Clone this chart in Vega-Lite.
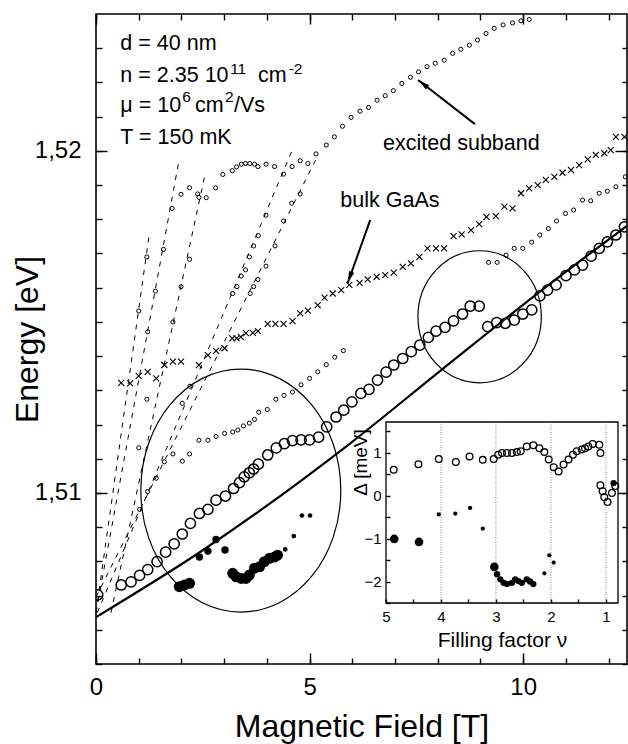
{
"$schema": "https://vega.github.io/schema/vega-lite/v6.json",
"width": 531, "height": 650,
"autosize": {"type": "none"},
"padding": {"left": 96, "top": 14, "right": 1, "bottom": 80},
"background": "white",
"config": {"font": "Liberation Sans", "view": {"stroke": "black", "strokeWidth": 1.6},
  "axis": {"domain": false, "grid": false, "tickColor": "black", "tickWidth": 1.4, "labelColor": "black", "titleColor": "black", "titleFontWeight": "normal", "labelFlush": false, "labelOverlap": false}},
"datasets": {
  "big": [{"B":0.04,"E":1.50702},{"B":0.59,"E":1.50731},{"B":0.82,"E":1.5074},{"B":1.02,"E":1.50759},{"B":1.21,"E":1.50776},{"B":1.43,"E":1.50799},{"B":1.63,"E":1.50827},{"B":1.83,"E":1.50851},{"B":2.02,"E":1.5088},{"B":2.21,"E":1.50911},{"B":2.42,"E":1.5094},{"B":2.62,"E":1.50952},{"B":2.81,"E":1.50979},{"B":3.03,"E":1.50991},{"B":3.22,"E":1.51013},{"B":3.36,"E":1.5103},{"B":3.47,"E":1.51047},{"B":3.59,"E":1.51059},{"B":3.69,"E":1.5107},{"B":3.8,"E":1.51084},{"B":4.02,"E":1.51111},{"B":4.22,"E":1.51132},{"B":4.41,"E":1.51144},{"B":4.6,"E":1.51153},{"B":4.8,"E":1.51155},{"B":5.0,"E":1.51155},{"B":5.21,"E":1.51163},{"B":5.4,"E":1.51193},{"B":5.62,"E":1.51222},{"B":5.8,"E":1.51242},{"B":5.99,"E":1.51266},{"B":6.2,"E":1.51291},{"B":6.39,"E":1.51303},{"B":6.59,"E":1.5133},{"B":6.79,"E":1.51353},{"B":6.97,"E":1.51374},{"B":7.18,"E":1.51393},{"B":7.38,"E":1.51413},{"B":7.58,"E":1.51432},{"B":7.78,"E":1.51455},{"B":7.96,"E":1.51473},{"B":8.17,"E":1.51484},{"B":8.37,"E":1.51503},{"B":8.58,"E":1.51523},{"B":8.76,"E":1.51546},{"B":8.97,"E":1.51546},{"B":9.17,"E":1.51486},{"B":9.38,"E":1.51498},{"B":9.58,"E":1.51496},{"B":9.79,"E":1.51505},{"B":9.99,"E":1.51523},{"B":10.2,"E":1.51535},{"B":10.39,"E":1.51576},{"B":10.57,"E":1.51593},{"B":10.77,"E":1.51608},{"B":11.0,"E":1.51635},{"B":11.2,"E":1.51652},{"B":11.39,"E":1.51666},{"B":11.59,"E":1.51692},{"B":11.78,"E":1.51715},{"B":11.97,"E":1.51734},{"B":12.17,"E":1.51754},{"B":12.37,"E":1.51778}],
  "bulk": [{"B":0.59,"E":1.51322},{"B":0.8,"E":1.5132},{"B":1.0,"E":1.51342},{"B":1.21,"E":1.51354},{"B":1.41,"E":1.51335},{"B":1.6,"E":1.51374},{"B":1.8,"E":1.51384},{"B":1.99,"E":1.51384},{"B":2.41,"E":1.51374},{"B":2.62,"E":1.51403},{"B":2.81,"E":1.51415},{"B":3.01,"E":1.51423},{"B":3.19,"E":1.51452},{"B":3.29,"E":1.51452},{"B":3.39,"E":1.51456},{"B":3.51,"E":1.51467},{"B":3.67,"E":1.51468},{"B":3.79,"E":1.51473},{"B":4.02,"E":1.51494},{"B":4.2,"E":1.51494},{"B":4.39,"E":1.51494},{"B":4.6,"E":1.51502},{"B":4.78,"E":1.51525},{"B":4.96,"E":1.51533},{"B":5.19,"E":1.51549},{"B":5.35,"E":1.51571},{"B":5.54,"E":1.51583},{"B":5.74,"E":1.51593},{"B":5.93,"E":1.51608},{"B":6.17,"E":1.51614},{"B":6.36,"E":1.51624},{"B":6.57,"E":1.51632},{"B":6.77,"E":1.51637},{"B":6.97,"E":1.51644},{"B":7.18,"E":1.51661},{"B":7.37,"E":1.51671},{"B":7.57,"E":1.5169},{"B":7.76,"E":1.51715},{"B":7.96,"E":1.51715},{"B":8.15,"E":1.51715},{"B":8.37,"E":1.51751},{"B":8.56,"E":1.51756},{"B":8.78,"E":1.51768},{"B":8.97,"E":1.51786},{"B":9.14,"E":1.51807},{"B":9.36,"E":1.51809},{"B":9.56,"E":1.51837},{"B":9.75,"E":1.51832},{"B":9.95,"E":1.51876},{"B":10.14,"E":1.5189},{"B":10.34,"E":1.519},{"B":10.53,"E":1.51915},{"B":10.73,"E":1.51924},{"B":10.92,"E":1.51936},{"B":11.12,"E":1.51944},{"B":11.31,"E":1.51958},{"B":11.51,"E":1.51975},{"B":11.7,"E":1.51988},{"B":11.9,"E":1.51993},{"B":12.05,"E":1.52002},{"B":12.17,"E":1.52041},{"B":12.37,"E":1.52041}],
  "excited": [{"B":1.99,"E":1.51873},{"B":2.19,"E":1.51892},{"B":2.38,"E":1.51874},{"B":2.58,"E":1.51863},{"B":2.8,"E":1.51892},{"B":2.97,"E":1.51931},{"B":3.19,"E":1.51942},{"B":3.29,"E":1.51953},{"B":3.4,"E":1.51961},{"B":3.5,"E":1.51963},{"B":3.6,"E":1.51963},{"B":3.71,"E":1.51961},{"B":3.79,"E":1.51954},{"B":3.98,"E":1.51961},{"B":4.18,"E":1.51954},{"B":4.59,"E":1.51954},{"B":4.78,"E":1.51971},{"B":4.96,"E":1.51963},{"B":5.15,"E":1.51991},{"B":5.39,"E":1.52017},{"B":5.58,"E":1.52041},{"B":5.77,"E":1.52072},{"B":5.97,"E":1.52098},{"B":6.18,"E":1.52116},{"B":6.38,"E":1.52127},{"B":6.58,"E":1.52148},{"B":6.77,"E":1.52161},{"B":6.96,"E":1.52176},{"B":7.16,"E":1.52197},{"B":7.36,"E":1.52215},{"B":7.55,"E":1.52231},{"B":7.75,"E":1.52246},{"B":7.94,"E":1.52256},{"B":8.15,"E":1.52265},{"B":8.35,"E":1.52285},{"B":8.54,"E":1.52297},{"B":8.74,"E":1.52309},{"B":8.93,"E":1.52324},{"B":9.13,"E":1.52343},{"B":9.32,"E":1.52358},{"B":9.53,"E":1.52368},{"B":9.75,"E":1.52374},{"B":9.95,"E":1.5238},{"B":10.14,"E":1.52384}],
  "upper": [{"B":9.19,"E":1.51674},{"B":9.39,"E":1.51674},{"B":9.6,"E":1.51695},{"B":9.79,"E":1.51715},{"B":9.99,"E":1.51715},{"B":10.2,"E":1.51733},{"B":10.39,"E":1.51754},{"B":10.59,"E":1.51773},{"B":10.78,"E":1.51795},{"B":10.99,"E":1.51817},{"B":11.18,"E":1.51827},{"B":11.39,"E":1.51856},{"B":11.58,"E":1.51854},{"B":11.78,"E":1.51876},{"B":11.97,"E":1.51882},{"B":12.17,"E":1.51895},{"B":12.39,"E":1.51924}],
  "lower": [{"B":2.02,"E":1.51093},{"B":2.19,"E":1.51114},{"B":2.41,"E":1.51154},{"B":2.62,"E":1.51154},{"B":2.81,"E":1.51165},{"B":3.01,"E":1.51174},{"B":3.2,"E":1.51178},{"B":3.32,"E":1.51184},{"B":3.45,"E":1.51196},{"B":3.59,"E":1.51204},{"B":3.71,"E":1.51215},{"B":3.81,"E":1.51236},{"B":4.01,"E":1.51244},{"B":4.21,"E":1.51274},{"B":4.4,"E":1.51285},{"B":4.6,"E":1.51295},{"B":4.8,"E":1.51316},{"B":5.0,"E":1.51335},{"B":5.19,"E":1.51354},{"B":5.39,"E":1.51375},{"B":5.59,"E":1.51397},{"B":5.79,"E":1.51416}],
  "fan": [{"B":1.0,"E":1.51532},{"B":1.19,"E":1.5169},{"B":1.21,"E":1.51471},{"B":1.39,"E":1.5159},{"B":1.58,"E":1.51712},{"B":1.78,"E":1.51832},{"B":1.8,"E":1.515},{"B":1.99,"E":1.51603},{"B":2.19,"E":1.51683},{"B":2.41,"E":1.51864},{"B":1.19,"E":1.51274},{"B":1.0,"E":1.51132},{"B":1.02,"E":1.50952},{"B":1.21,"E":1.51004},{"B":1.41,"E":1.51043},{"B":1.6,"E":1.51091},{"B":1.8,"E":1.51114},{"B":2.02,"E":1.51262},{"B":2.2,"E":1.51312},{"B":3.2,"E":1.51583},{"B":3.3,"E":1.51603},{"B":3.4,"E":1.51634},{"B":3.5,"E":1.51652},{"B":3.59,"E":1.5169},{"B":3.69,"E":1.51722},{"B":3.8,"E":1.51752},{"B":3.98,"E":1.51812},{"B":4.39,"E":1.51932},{"B":3.61,"E":1.51583},{"B":3.69,"E":1.51603},{"B":3.79,"E":1.51624},{"B":3.98,"E":1.51663},{"B":4.19,"E":1.51722},{"B":4.39,"E":1.51795},{"B":4.58,"E":1.51847},{"B":4.78,"E":1.51874}],
  "dotsLarge": [{"B":1.95,"E":1.50726},{"B":2.07,"E":1.50731},{"B":2.19,"E":1.50736},{"B":3.2,"E":1.50765},{"B":3.28,"E":1.50755},{"B":3.4,"E":1.5075},{"B":3.51,"E":1.5075},{"B":3.59,"E":1.5076},{"B":3.71,"E":1.5078},{"B":3.83,"E":1.50784},{"B":3.94,"E":1.50799},{"B":4.06,"E":1.50809},{"B":4.18,"E":1.50813},{"B":4.25,"E":1.50818}],
  "dotsMedium": [{"B":2.42,"E":1.50813},{"B":2.62,"E":1.5083},{"B":2.81,"E":1.50864},{"B":3.02,"E":1.50833}],
  "dotsSmall": [{"B":4.43,"E":1.50835},{"B":4.63,"E":1.50874},{"B":4.82,"E":1.50934},{"B":5.01,"E":1.50934}],
  "fanlines": [{"B":0,"E":1.5065,"B2":1.24,"E2":1.5175},{"B":0,"E":1.5065,"B2":1.94,"E2":1.5197},{"B":0.35,"E":1.5065,"B2":2.55,"E2":1.5193},{"B":0.03,"E":1.5065,"B2":4.62,"E2":1.5201},{"B":0,"E":1.50696,"B2":5.14,"E2":1.51973}],
  "fit": [{"B":0,"E":1.50637},{"B":2.42,"E":1.50826},{"B":5.93,"E":1.51143},{"B":8.11,"E":1.51362},{"B":10.46,"E":1.51595},{"B":12.43,"E":1.51781}],
  "arrows": [{"B":8.87,"E":1.52078,"B2":7.54,"E2":1.52207},{"B":6.42,"E":1.51798,"B2":5.89,"E2":1.51613}],
  "notes": [{"label":"d = 40 nm","B":0.57,"E":1.52295},{"label":"n = 2.35 10","B":0.57,"E":1.52202},{"label":"cm","B":3.79,"E":1.52202},{"label":"μ = 10","B":0.57,"E":1.52114},{"label":"cm","B":2.32,"E":1.52114},{"label":"/Vs","B":3.23,"E":1.52114},{"label":"T = 150 mK","B":0.57,"E":1.5202},{"label":"excited subband","B":6.72,"E":1.52002},{"label":"bulk GaAs","B":5.72,"E":1.51835}],
  "sups": [{"label":"11","B":3.14,"E":1.52225},{"label":"-2","B":4.51,"E":1.52225},{"label":"6","B":2.02,"E":1.52143},{"label":"2","B":3.02,"E":1.52143}],
  "insetOpen": [{"nu":4.86,"D":0.6},{"nu":4.41,"D":0.73},{"nu":4.04,"D":0.85},{"nu":3.73,"D":0.78},{"nu":3.48,"D":0.91},{"nu":3.24,"D":0.83},{"nu":3.04,"D":0.85},{"nu":2.96,"D":0.95},{"nu":2.89,"D":0.99},{"nu":2.8,"D":0.99},{"nu":2.71,"D":0.99},{"nu":2.62,"D":1.01},{"nu":2.55,"D":1.03},{"nu":2.44,"D":1.14},{"nu":2.32,"D":1.17},{"nu":2.21,"D":1.1},{"nu":2.12,"D":1.01},{"nu":2.04,"D":0.84},{"nu":1.95,"D":0.66},{"nu":1.86,"D":0.56},{"nu":1.77,"D":0.72},{"nu":1.68,"D":0.84},{"nu":1.6,"D":0.95},{"nu":1.53,"D":1.03},{"nu":1.44,"D":1.07},{"nu":1.38,"D":1.1},{"nu":1.32,"D":1.14},{"nu":1.24,"D":1.2},{"nu":1.12,"D":1.18},{"nu":1.1,"D":0.99},{"nu":1.1,"D":0.24},{"nu":1.06,"D":0.1},{"nu":1.03,"D":-0.04},{"nu":0.97,"D":-0.15},{"nu":0.89,"D":0.06},{"nu":0.83,"D":0.22}],
  "insetLarge": [{"nu":4.85,"D":-1.01},{"nu":4.4,"D":-1.08},{"nu":3.03,"D":-1.66}],
  "insetMedium": [{"nu":2.98,"D":-1.83},{"nu":2.92,"D":-1.95},{"nu":2.86,"D":-2.03},{"nu":2.8,"D":-2.06},{"nu":2.71,"D":-2.03},{"nu":2.65,"D":-1.95},{"nu":2.59,"D":-1.99},{"nu":2.53,"D":-2.03},{"nu":2.44,"D":-1.95},{"nu":2.38,"D":-2.0},{"nu":2.32,"D":-2.06},{"nu":0.86,"D":0.29}],
  "insetSmall": [{"nu":4.04,"D":-0.44},{"nu":3.74,"D":-0.42},{"nu":3.47,"D":-0.29},{"nu":3.24,"D":-0.77},{"nu":2.12,"D":-1.81},{"nu":2.03,"D":-1.39},{"nu":1.95,"D":-1.56}],
  "grid": [{"nu":4},{"nu":3},{"nu":2},{"nu":1}]
},
"layer": [
  {
    "encoding": {
      "x": {"field": "B", "type": "quantitative", "scale": {"domain": [0, 12.43], "nice": false, "zero": false},
        "axis": {"orient": "bottom", "values": [0,1,2,3,4,5,6,7,8,9,10,11,12], "labels": false, "tickSize": -6, "title": null}},
      "y": {"field": "E", "type": "quantitative", "scale": {"domain": [1.505, 1.524], "nice": false, "zero": false},
        "axis": {"orient": "left", "values": [1.505,1.506,1.507,1.508,1.509,1.51,1.511,1.512,1.513,1.514,1.515,1.516,1.517,1.518,1.519,1.52,1.521,1.522,1.523], "labels": false, "tickSize": -6, "title": null}}
    },
    "layer": [
      {"data": {"name": "fanlines"},
       "mark": {"type": "rule", "color": "black", "strokeWidth": 1, "strokeDash": [5, 6]},
       "encoding": {"x2": {"field": "B2"}, "y2": {"field": "E2"}}},
      {"data": {"name": "fit"},
       "mark": {"type": "line", "color": "black", "strokeWidth": 2.2, "interpolate": "monotone"},
       "encoding": {}},
      {"data": {"name": "arrows"},
       "mark": {"type": "rule", "color": "black", "strokeWidth": 2},
       "encoding": {"x2": {"field": "B2"}, "y2": {"field": "E2"}}},
      {"data": {"name": "bulk"},
       "mark": {"type": "point", "shape": "M-1,-1L1,1M-1,1L1,-1", "size": 36, "filled": false, "stroke": "black", "strokeWidth": 1.1, "opacity": 1}},
      {"data": {"name": "excited"},
       "mark": {"type": "point", "shape": "circle", "size": 17, "filled": false, "stroke": "black", "strokeWidth": 1, "opacity": 1}},
      {"data": {"name": "upper"},
       "mark": {"type": "point", "shape": "circle", "size": 17, "filled": false, "stroke": "black", "strokeWidth": 1, "opacity": 1}},
      {"data": {"name": "lower"},
       "mark": {"type": "point", "shape": "circle", "size": 17, "filled": false, "stroke": "black", "strokeWidth": 1, "opacity": 1}},
      {"data": {"name": "fan"},
       "mark": {"type": "point", "shape": "circle", "size": 17, "filled": false, "stroke": "black", "strokeWidth": 1, "opacity": 1}},
      {"data": {"name": "big"},
       "mark": {"type": "point", "shape": "circle", "size": 105, "filled": false, "stroke": "black", "strokeWidth": 1.5, "opacity": 1, "clip": true}},
      {"data": {"name": "dotsLarge"},
       "mark": {"type": "point", "shape": "circle", "size": 120, "filled": true, "color": "black", "opacity": 1}},
      {"data": {"name": "dotsMedium"},
       "mark": {"type": "point", "shape": "circle", "size": 55, "filled": true, "color": "black", "opacity": 1}},
      {"data": {"name": "dotsSmall"},
       "mark": {"type": "point", "shape": "circle", "size": 22, "filled": true, "color": "black", "opacity": 1}},
      {"data": {"name": "notes"},
       "mark": {"type": "text", "align": "left", "baseline": "alphabetic", "fontSize": 21.5, "color": "black"},
       "encoding": {"text": {"field": "label"}}},
      {"data": {"name": "sups"},
       "mark": {"type": "text", "align": "left", "baseline": "alphabetic", "fontSize": 15.5, "color": "black"},
       "encoding": {"text": {"field": "label"}}}
    ]
  },
  {
    "data": {"values": [{}]},
    "mark": {"type": "point", "shape": "M1,0 C1,0.671 0.5523,1.215 0,1.215 C-0.5523,1.215 -1,0.671 -1,0 C-1,-0.671 -0.5523,-1.215 0,-1.215 C0.5523,-1.215 1,-0.671 1,0 Z", "size": 40000, "filled": false, "stroke": "black", "strokeWidth": 1.2, "opacity": 1},
    "encoding": {
      "x": {"datum": 3.39, "type": "quantitative", "scale": {"domain": [0, 12.43], "nice": false, "zero": false}, "axis": null},
      "y": {"datum": 1.51007, "type": "quantitative", "scale": {"domain": [1.505, 1.524], "nice": false, "zero": false}, "axis": null}}
  },
  {
    "data": {"values": [{}]},
    "mark": {"type": "point", "shape": "M1,0 C1,0.591 0.5523,1.07 0,1.07 C-0.5523,1.07 -1,0.591 -1,0 C-1,-0.591 -0.5523,-1.07 0,-1.07 C0.5523,-1.07 1,-0.591 1,0 Z", "size": 15228, "filled": false, "stroke": "black", "strokeWidth": 1.2, "opacity": 1},
    "encoding": {
      "x": {"datum": 8.98, "type": "quantitative", "scale": {"domain": [0, 12.43], "nice": false, "zero": false}, "axis": null},
      "y": {"datum": 1.51515, "type": "quantitative", "scale": {"domain": [1.505, 1.524], "nice": false, "zero": false}, "axis": null}}
  },
  {
    "data": {"values": [{}]},
    "mark": {"type": "point", "shape": "M0,0 L0.45,2 L-0.45,2 Z", "size": 144, "filled": true, "color": "black", "opacity": 1, "angle": 307.8},
    "encoding": {
      "x": {"datum": 7.54, "type": "quantitative", "scale": {"domain": [0, 12.43], "nice": false, "zero": false}, "axis": null},
      "y": {"datum": 1.52207, "type": "quantitative", "scale": {"domain": [1.505, 1.524], "nice": false, "zero": false}, "axis": null}}
  },
  {
    "data": {"values": [{}]},
    "mark": {"type": "point", "shape": "M0,0 L0.45,2 L-0.45,2 Z", "size": 144, "filled": true, "color": "black", "opacity": 1, "angle": 199.7},
    "encoding": {
      "x": {"datum": 5.89, "type": "quantitative", "scale": {"domain": [0, 12.43], "nice": false, "zero": false}, "axis": null},
      "y": {"datum": 1.51613, "type": "quantitative", "scale": {"domain": [1.505, 1.524], "nice": false, "zero": false}, "axis": null}}
  },
  {
    "data": {"values": [{}]},
    "mark": {"type": "point", "opacity": 0},
    "encoding": {
      "x": {"datum": 0, "type": "quantitative", "scale": {"domain": [0, 12.43], "nice": false, "zero": false},
        "axis": {"orient": "bottom", "values": [0, 5, 10], "tickSize": -11, "labelFontSize": 24, "labelPadding": 22, "title": "Magnetic Field [T]", "titleFontSize": 32, "titleBaseline": "alphabetic", "titleY": 72}},
      "y": {"datum": 1.51, "type": "quantitative", "scale": {"domain": [1.505, 1.524], "nice": false, "zero": false},
        "axis": {"orient": "left", "values": [1.51, 1.52], "format": ".2f", "labelExpr": "replace(datum.label, '.', ',')", "tickSize": -11, "labelFontSize": 24, "labelPadding": 26, "title": "Energy [eV]", "titleFontSize": 32, "titleBaseline": "alphabetic", "titleAngle": 270, "titleX": -59, "titleY": 325}}
    }
  },
  {
    "data": {"values": [{}]},
    "mark": {"type": "point", "opacity": 0},
    "encoding": {
      "x": {"datum": 0, "type": "quantitative", "scale": {"domain": [0, 12.43], "nice": false, "zero": false},
        "axis": {"orient": "top", "values": [0,1,2,3,4,5,6,7,8,9,10,11,12], "labels": false, "tickSize": -6, "title": null}},
      "y": {"datum": 1.51, "type": "quantitative", "scale": {"domain": [1.505, 1.524], "nice": false, "zero": false},
        "axis": {"orient": "right", "values": [1.505,1.506,1.507,1.508,1.509,1.51,1.511,1.512,1.513,1.514,1.515,1.516,1.517,1.518,1.519,1.52,1.521,1.522,1.523], "labels": false, "tickSize": -5, "title": null}}
    }
  },
  {
    "data": {"values": [{}]},
    "mark": {"type": "point", "opacity": 0},
    "encoding": {
      "x": {"datum": 0, "type": "quantitative", "scale": {"domain": [0, 12.43], "nice": false, "zero": false},
        "axis": {"orient": "top", "values": [0, 5, 10], "labels": false, "tickSize": -10, "title": null}},
      "y": {"datum": 1.51, "type": "quantitative", "scale": {"domain": [1.505, 1.524], "nice": false, "zero": false},
        "axis": {"orient": "right", "values": [1.51, 1.52], "labels": false, "tickSize": -12, "title": null}}
    }
  },
  {
    "data": {"values": [{}]},
    "mark": {"type": "rect", "fill": "white", "stroke": "black", "strokeWidth": 1.3},
    "encoding": {
      "x": {"datum": 5, "type": "quantitative", "scale": {"domain": [5, 0.78], "range": [290, 522], "nice": false, "zero": false}, "axis": null},
      "x2": {"datum": 0.78},
      "y": {"datum": -2.5, "type": "quantitative", "scale": {"domain": [-2.5, 1.71], "range": [589, 408], "nice": false, "zero": false}, "axis": null},
      "y2": {"datum": 1.71}}
  },
  {
    "data": {"name": "grid"},
    "mark": {"type": "rule", "color": "#666", "strokeWidth": 0.8, "strokeDash": [1, 1.5]},
    "encoding": {
      "x": {"field": "nu", "type": "quantitative", "scale": {"domain": [5, 0.78], "range": [290, 522], "nice": false, "zero": false}, "axis": null},
      "y": {"datum": -2.5, "type": "quantitative", "scale": {"domain": [-2.5, 1.71], "range": [589, 408], "nice": false, "zero": false}, "axis": null},
      "y2": {"datum": 1.71}}
  },
  {
    "encoding": {
      "x": {"field": "nu", "type": "quantitative", "scale": {"domain": [5, 0.78], "range": [290, 522], "nice": false, "zero": false},
        "axis": {"orient": "bottom", "offset": -61, "zindex": 1, "values": [5, 4.5, 4, 3.5, 3, 2.5, 2, 1.5, 1], "labelExpr": "datum.value % 1 == 0 ? format(datum.value, 'd') : ''", "tickSize": -4, "labelFontSize": 15, "labelPadding": 10, "title": "Filling factor ν", "titleFontSize": 21, "titleBaseline": "alphabetic", "titleX": 406, "titleY": 43}},
      "y": {"field": "D", "type": "quantitative", "scale": {"domain": [-2.5, 1.71], "range": [589, 408], "nice": false, "zero": false},
        "axis": {"orient": "left", "offset": -290, "zindex": 1, "values": [-2.5, -2, -1.5, -1, -0.5, 0, 0.5, 1, 1.5], "labelExpr": "datum.value % 1 == 0 ? format(datum.value, 'd') : ''", "tickSize": -4, "labelFontSize": 15, "labelPadding": 9, "title": "Δ [meV]", "titleFontSize": 19, "titleBaseline": "alphabetic", "titleAngle": 270, "titleX": -20, "titleY": 448}}
    },
    "layer": [
      {"data": {"name": "insetOpen"},
       "mark": {"type": "point", "shape": "circle", "size": 45, "filled": false, "stroke": "black", "strokeWidth": 1.3, "opacity": 1, "clip": true}},
      {"data": {"name": "insetLarge"},
       "mark": {"type": "point", "shape": "circle", "size": 75, "filled": true, "color": "black", "opacity": 1}},
      {"data": {"name": "insetMedium"},
       "mark": {"type": "point", "shape": "circle", "size": 40, "filled": true, "color": "black", "opacity": 1, "clip": true}},
      {"data": {"name": "insetSmall"},
       "mark": {"type": "point", "shape": "circle", "size": 18, "filled": true, "color": "black", "opacity": 1}}
    ]
  }
],
"resolve": {"scale": {"x": "independent", "y": "independent"}, "axis": {"x": "independent", "y": "independent"}}
}
